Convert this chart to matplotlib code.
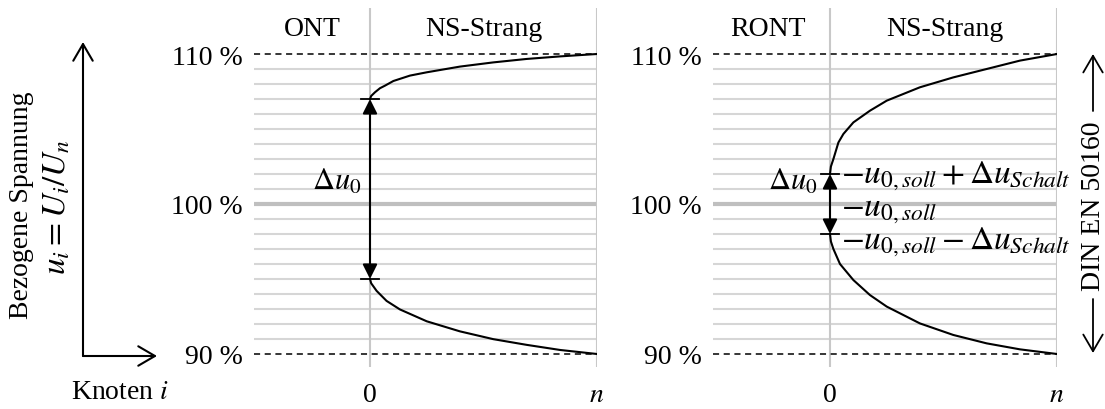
import matplotlib
matplotlib.use('Agg')
import matplotlib.pyplot as plt
from matplotlib.patches import FancyArrowPatch

plt.rcParams['font.family'] = ['Liberation Serif', 'DejaVu Serif']
plt.rcParams['mathtext.fontset'] = 'stix'

W, H = 1105, 410

# y-axis levels (percent of nominal voltage)
Y_TICKS = [90, 100, 110]
Y_TICK_LABELS = ['90 %', '100 %', '110 %']
GRID_LEVELS = [91, 92, 93, 94, 95, 96, 97, 98, 99, 101, 102, 103, 104, 105, 106, 107, 108, 109]
BAND_LIMITS = [90, 110]
X_TICKS = [0, 1]
X_TICK_LABELS = ['0', '$n$']

# ONT: voltage along the feeder
ont_x_up = [0, 0.005, 0.022, 0.044, 0.066, 0.103, 0.176, 0.25, 0.396, 0.543, 0.69, 0.837, 1.0]
ont_y_up = [107.0, 107.2, 107.45, 107.72, 107.89, 108.2, 108.56, 108.78, 109.16, 109.44, 109.67, 109.84, 110.0]
ont_x_lo = [0, 0.005, 0.029, 0.073, 0.132, 0.25, 0.396, 0.543, 0.69, 0.837, 1.0]
ont_y_lo = [95.0, 94.72, 94.21, 93.54, 92.97, 92.18, 91.51, 90.99, 90.61, 90.27, 90.0]
ont_bounds = [95, 107]

# RONT
ront_x_up = [0, 0.004, 0.015, 0.037, 0.059, 0.103, 0.176, 0.25, 0.396, 0.543, 0.69, 0.837, 1.0]
ront_y_up = [102.0, 102.5, 103.0, 104.1, 104.67, 105.44, 106.22, 106.89, 107.78, 108.44, 109.0, 109.56, 110.0]
ront_x_lo = [0, 0.004, 0.015, 0.044, 0.103, 0.176, 0.25, 0.396, 0.543, 0.69, 0.837, 1.0]
ront_y_lo = [98.0, 97.5, 97.0, 96.0, 94.93, 93.93, 93.16, 92.04, 91.27, 90.71, 90.31, 90.0]
ront_bounds = [98, 102]
ront_labels = [r'$-u_{0,soll}+\Delta u_{Schalt}$', r'$-u_{0,soll}$', r'$-u_{0,soll}-\Delta u_{Schalt}$']
ront_label_y = [101.45, 99.25, 97.05]

GRID_C = '#d6d6d6'
FS = 20

fig = plt.figure(figsize=(W / 100, H / 100), dpi=100)


def make_axes(x_left, x_zero, x_n):
    top, bottom = 9, 368
    ax = fig.add_axes([x_left / W, 1 - bottom / H, (x_n - x_left) / W, (bottom - top) / H])
    unit = x_n - x_zero
    ax.set_xlim(-(x_zero - x_left) / unit, 1.0)
    ax.set_ylim(110 - (bottom - 55) / 15, 110 + (55 - top) / 15)
    for s in ax.spines.values():
        s.set_visible(False)
    ax.set_yticks(Y_TICKS, Y_TICK_LABELS)
    ax.set_xticks(X_TICKS, X_TICK_LABELS)
    ax.tick_params(length=0, labelsize=FS)
    ax.tick_params(axis='y', pad=8)
    ax.tick_params(axis='x', pad=11)
    x0 = ax.get_xlim()[0]
    for lv in GRID_LEVELS:
        ax.plot([x0, 1], [lv, lv], color=GRID_C, lw=1.5, zorder=1)
    ax.plot([x0, 1], [100, 100], color='#bfbfbf', lw=3, zorder=1)
    for lv in BAND_LIMITS:
        ax.plot([x0, 1], [lv, lv], color='black', lw=1.1, ls=(0, (4, 3)), zorder=2)
    for xv in X_TICKS:
        ax.axvline(xv, color='#c8c8c8', lw=1.5, zorder=1)
    return ax


def curves(ax, xu, yu, xl, yl, bounds):
    ax.plot(xu, yu, color='black', lw=1.5, zorder=3, solid_joinstyle='round')
    ax.plot(xl, yl, color='black', lw=1.5, zorder=3, solid_joinstyle='round')
    for b in bounds:
        ax.plot([-0.04, 0.04], [b, b], color='black', lw=1.3, zorder=4)
    ax.annotate('', xy=(0, bounds[1]), xytext=(0, bounds[0]),
                arrowprops=dict(arrowstyle='<|-|>', color='black', lw=1.5,
                                mutation_scale=22, shrinkA=0, shrinkB=0), zorder=4)


# left panel: ONT
ax1 = make_axes(254, 370, 597)
curves(ax1, ont_x_up, ont_y_up, ont_x_lo, ont_y_lo, ont_bounds)
ax1.text(-0.255, 111.7, 'ONT', ha='center', va='center', fontsize=FS)
ax1.text(0.5, 111.7, 'NS-Strang', ha='center', va='center', fontsize=FS)
ax1.text(-0.04, 101.0, r'$\Delta u_0$', ha='right', va='baseline', fontsize=FS + 2)

# right panel: RONT
ax2 = make_axes(713, 830, 1057)
curves(ax2, ront_x_up, ront_y_up, ront_x_lo, ront_y_lo, ront_bounds)
ax2.text(-0.273, 111.7, 'RONT', ha='center', va='center', fontsize=FS)
ax2.text(0.507, 111.7, 'NS-Strang', ha='center', va='center', fontsize=FS)
ax2.text(-0.055, 101.0, r'$\Delta u_0$', ha='right', va='baseline', fontsize=FS + 2)
for lab, yv in zip(ront_labels, ront_label_y):
    ax2.text(0.05, yv, lab, ha='left', va='baseline', fontsize=FS + 4, zorder=5)


def fx(x):
    return x / W


def fy(y):
    return 1 - y / H


# axis description on the left
fig.text(fx(22), fy(205), 'Bezogene Spannung', rotation=90, ha='center', va='center', fontsize=FS)
fig.text(fx(57), fy(207), r'$u_i = U_i/U_n$', rotation=90, ha='center', va='center', fontsize=FS + 4)
fig.text(fx(120), fy(393), r'Knoten $i$', ha='center', va='center', fontsize=FS)
for (x1, y1), (x2, y2) in [((83, 357), (83, 43)), ((83, 357), (157, 357))]:
    fig.add_artist(FancyArrowPatch((fx(x1), fy(y1)), (fx(x2), fy(y2)), transform=fig.transFigure,
                                   arrowstyle='->,head_length=0.6,head_width=0.35', mutation_scale=20,
                                   lw=1.5, color='black', shrinkA=0, shrinkB=0))

# DIN EN 50160 band marker
fig.text(fx(1093), fy(206), 'DIN EN 50160', rotation=90, ha='center', va='center', fontsize=FS)
for (y1, y2) in [(112, 55), (300, 354)]:
    fig.add_artist(FancyArrowPatch((fx(1093), fy(y1)), (fx(1093), fy(y2)), transform=fig.transFigure,
                                   arrowstyle='->,head_length=0.6,head_width=0.35', mutation_scale=20,
                                   lw=1.3, color='black', shrinkA=0, shrinkB=0))

fig.savefig('out.png', dpi=100)
